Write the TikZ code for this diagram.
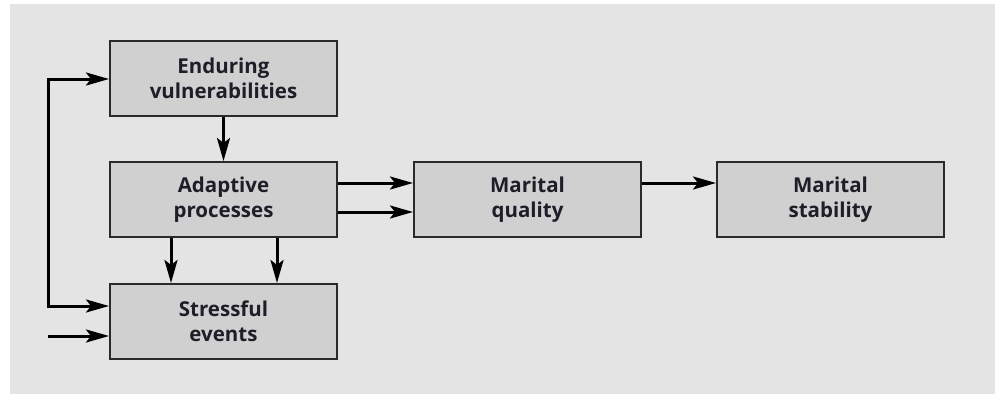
\documentclass[tikz,border=0pt]{standalone}
\usepackage{fontspec}
\setmainfont{Open Sans}
\usetikzlibrary{arrows.meta}
\definecolor{bggray}{HTML}{E4E4E4}
\definecolor{boxgray}{HTML}{D0D0D0}
\definecolor{edge}{HTML}{2A2A2A}
\definecolor{txt}{HTML}{1E1E28}
\begin{document}
\begin{tikzpicture}[x=1pt,y=-1pt,
  box/.style={draw=edge, fill=boxgray, line width=2pt, minimum width=227pt, minimum height=75pt,
    inner sep=0pt, align=center, text=txt, font=\fontsize{20.5}{25}\selectfont\bfseries},
  tip/.style={Stealth[length=23pt,width=13pt,inset=5pt]},
  arr/.style={line width=3pt, -{Stealth[length=23pt,width=13pt,inset=5pt]}},
  arr2/.style={line width=3pt, {Stealth[length=23pt,width=13pt,inset=5pt]}-{Stealth[length=23pt,width=13pt,inset=5pt]}}]
\useasboundingbox (0,0) rectangle (995,394);
\fill[white] (0,0) rectangle (995,394);
\fill[bggray] (10,4) rectangle (995,394);
\node[box] (end) at (223.5,78.5) {Enduring\\vulnerabilities};
\node[box] (ada) at (223.5,199.5) {Adaptive\\processes};
\node[box] (str) at (223.5,321.5) {Stressful\\events};
\node[box] (qual) at (527.5,199.5) {Marital\\quality};
\node[box] (stab) at (830.5,199.5) {Marital\\stability};
\coordinate (in) at (48,336);
\draw[arr] (end.south) -- (ada.north);
\draw[arr] (ada.south -| 171,0) -- (str.north -| 171,0);
\draw[arr] (ada.south -| 277,0) -- (str.north -| 277,0);
\draw[arr] (ada.east |- 0,183) -- (qual.west |- 0,183);
\draw[arr] (ada.east |- 0,212) -- (qual.west |- 0,212);
\draw[arr] (qual.east |- 0,183) -- (stab.west |- 0,183);
\draw[arr2] (str.west |- 0,306) -- (48,306) -- (48,79) -- (end.west |- 0,79);
\draw[arr] (in) -- (str.west |- in);
\end{tikzpicture}
\end{document}
